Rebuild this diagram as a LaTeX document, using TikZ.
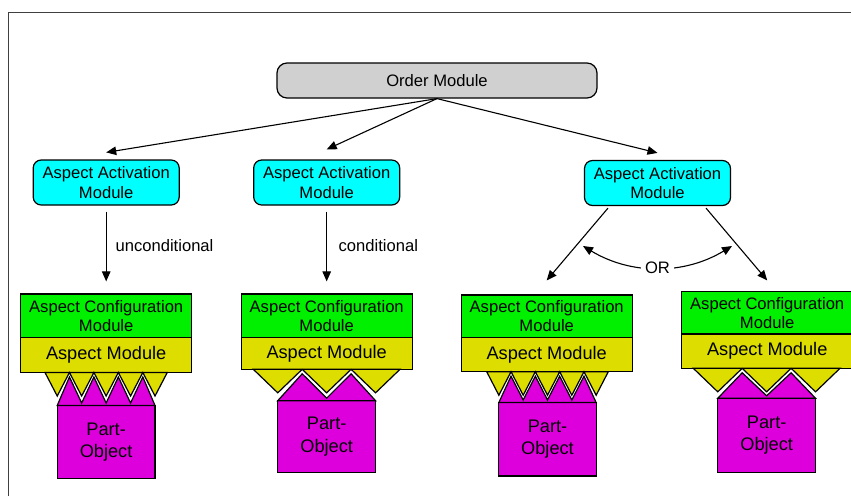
\documentclass[tikz,border=0pt]{standalone}
\usepackage{fontspec}
\setmainfont{Liberation Sans}
\usetikzlibrary{arrows.meta}
\definecolor{omgray}{RGB}{208,208,208}
\definecolor{aamcyan}{RGB}{0,255,255}
\definecolor{cfggreen}{RGB}{0,240,0}
\definecolor{asyellow}{RGB}{221,221,0}
\definecolor{pomag}{RGB}{221,0,221}
\definecolor{framegray}{RGB}{64,64,64}
% #1 x0, #2 period, #3 number of yellow teeth, #4 yellow box bottom, #5 magenta box top, #6 n-1
\newcommand\mkteeth[6]{%
  \draw[fill=asyellow] (#1,#4) \foreach \i in {1,...,#3}{ -- ({#1+(\i-0.5)*#2},{#4+23.5}) -- ({#1+\i*#2},#4) } -- cycle;
  \draw[fill=pomag] ({#1+0.5*#2},#5) \foreach \i in {1,...,#6}{ -- ({#1+\i*#2},{#4+4.5}) -- ({#1+(\i+0.5)*#2},{#5-2.5*(\i<#6)}) } -- cycle;
}
\begin{document}
\begin{tikzpicture}[x=1pt,y=-1pt,line width=1.2pt,
  arr/.style={-{Triangle[length=10pt,width=8.5pt]}, line width=1.1pt},
  dblarr/.style={{Triangle[length=10pt,width=8.5pt]}-{Triangle[length=10pt,width=8.5pt]}, line width=1.1pt},
  txt/.style={font=\fontsize{16.6}{19.3}\selectfont, text=black},
  bigtxt/.style={font=\fontsize{18.2}{22.3}\selectfont, text=black},
  ordermod/.style={draw, fill=omgray, rounded corners=10pt, minimum width=320pt, minimum height=35pt, inner sep=0pt, txt},
  actmod/.style={draw, fill=aamcyan, rounded corners=8pt, minimum width=146pt, minimum height=45pt, inner sep=0pt, align=center, txt},
  cfgmod/.style={draw, fill=cfggreen, minimum width=171pt, inner sep=0pt, align=center, txt},
  aspmod/.style={draw, fill=asyellow, minimum width=171pt, inner sep=0pt, bigtxt},
  partobj/.style={draw, fill=pomag, minimum width=97.8pt, inner sep=0pt, align=center, bigtxt},
  lbl/.style={txt, inner sep=0pt, anchor=west},
  orlbl/.style={txt, fill=white, inner xsep=4pt, inner ysep=1pt}
]
\useasboundingbox (0,0) rectangle (851,496);
% frame
\draw[framegray, line width=1.5pt] (8.7,496) -- (8.7,12.5) -- (851,12.5);

% top
\node[ordermod] (om) at (437,80.5) {Order Module};

% activation modules
\node[actmod] (a1) at (106.2,182.5) {Aspect Activation\\Module};
\node[actmod] (a2) at (326.7,182.5) {Aspect Activation\\Module};
\node[actmod] (a3) at (657.5,183) {Aspect Activation\\Module};

% column 1
\node[cfgmod, minimum height=43.7pt] (c1) at (106.2,315.85) {Aspect Configuration\\Module};
\node[aspmod, minimum height=34.8pt] (y1) at (106.2,355.1) {Aspect Module\hspace{8pt}};
\node[partobj, minimum height=72.8pt] (p1) at (106.1,441.9) {Part-\\Object};
\mkteeth{45}{24.45}{5}{372.5}{405.5}{4}

% column 2
\node[cfgmod, minimum height=43.7pt] (c2) at (326.7,315.85) {Aspect Configuration\\Module};
\node[aspmod, minimum height=31.6pt] (y2) at (326.7,353.5) {Aspect Module\hspace{8pt}};
\node[partobj, minimum height=72pt] (p2) at (326.65,436.7) {Part-\\Object};
\mkteeth{253.3}{48.9}{3}{369.3}{400.7}{2}

% column 3
\node[cfgmod, minimum height=42.7pt] (c3) at (546.7,316.35) {Aspect Configuration\\Module};
\node[aspmod, minimum height=34pt] (y3) at (546.7,354.7) {Aspect Module\hspace{8pt}};
\node[partobj, minimum height=73.5pt] (p3) at (547.5,439.25) {Part-\\Object};
\mkteeth{486.7}{24.32}{5}{371.7}{402.5}{4}

% column 4
\node[cfgmod, minimum height=42.3pt] (c4) at (767.2,312.85) {Aspect Configuration\\Module};
\node[aspmod, minimum height=34.3pt] (y4) at (767.2,351.15) {Aspect Module\hspace{8pt}};
\node[partobj, minimum height=74.2pt] (p4) at (766.65,435.4) {Part-\\Object};
\mkteeth{693.3}{48.9}{3}{368.3}{398.3}{2}

% connectors from order module
\draw[arr] (om.south) -- ([yshift=7pt]a1.north);
\draw[arr] (om.south) -- ([yshift=10pt]a2.north);
\draw[arr] (om.south) -- ([yshift=7pt]a3.north);

% down arrows
\draw[arr] ([yshift=-6pt]a1.south) -- ([yshift=12pt]c1.north);
\draw[arr] ([yshift=-6pt]a2.south) -- ([yshift=12pt]c2.north);
\draw[arr] ([xshift=-49.5pt,yshift=-2pt]a3.south) -- ([yshift=14pt]c3.north);
\draw[arr] ([xshift=48.5pt,yshift=-2pt]a3.south) -- ([yshift=10.7pt]c4.north);

% labels
\node[lbl] (l1) at (115,246) {unconditional};
\node[lbl] (l2) at (338,246) {conditional};

% OR
\coordinate (or1) at (583,246);
\coordinate (or2) at (732,246);
\draw[dblarr] (or1) .. controls +(48,29) and +(-48,29) .. (or2) node[orlbl, pos=0.5] (orl) {OR};
\end{tikzpicture}
\end{document}
